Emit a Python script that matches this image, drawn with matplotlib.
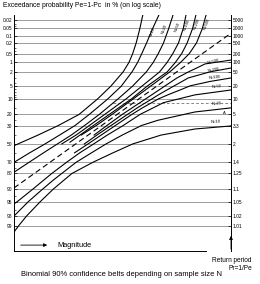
import matplotlib
matplotlib.use("Agg")
import matplotlib.pyplot as plt
import numpy as np
from statistics import NormalDist

# exceedance probability grid (left axis, %) and return periods (right axis)
pe_ticks = [0.02, 0.05, 0.1, 0.2, 0.5, 1, 2, 5, 10, 20, 30, 50, 70, 80, 90, 95, 98, 99]
pe_labels = ["0.02", "0.05", "0.1", "0.2", "0.5", "1", "2", "5", "10", "20", "30",
             "50", "70", "80", "90", "95", "98", "99"]
pr_labels = ["5000", "2000", "1000", "500", "200", "100", "50", "20", "10", "5", "3.3",
             "2", "1.4", "1.25", "1.1", "1.05", "1.02", "1.01"]
pe_minor = [0.03, 0.04, 0.3, 0.4, 3, 4, 6, 7, 8, 9, 15, 25, 40, 60, 75, 85, 93, 97]

# fitted line (dashed)
mid_mag = [0, 100]
mid_pe = [89.5, 0.08]

# example reading: magnitude A and its exceedance probability
ex_mag = [45.6, 100]
ex_pe = [12, 12]

# upper belt limits (magnitude in % of axis width, Pe in %)
up10_mag = [0, 11.1, 20.4, 30.0, 38.5, 44.6, 50.3, 53.0, 54.7, 56.3, 58.0, 59.5]
up10_pe = [52, 40, 30, 20, 10, 5, 2, 1, 0.5, 0.2, 0.05, 0.01]
up20_mag = [0, 7.2, 14.3, 21.0, 28.1, 34.7, 43.2, 49.4, 54.4, 57.0, 58.9, 61.1, 63.9, 67.1]
up20_pe = [70, 60, 50, 40, 30, 20, 10, 5, 2, 1, 0.5, 0.2, 0.05, 0.01]
up50_mag = [0, 6.9, 13.6, 20.0, 26.4, 32.5, 39.3, 47.9, 54.6, 61.0, 64.2, 66.5, 68.9, 71.3, 73.5]
up50_pe = [79, 70, 60, 50, 40, 30, 20, 10, 5, 2, 1, 0.5, 0.2, 0.05, 0.01]
up100_mag = [22.0, 28.6, 34.7, 41.8, 51.6, 58.9, 67.1, 70.6, 73.2, 75.8, 78.0, 79.4]
up100_pe = [50, 40, 30, 20, 10, 5, 2, 1, 0.5, 0.2, 0.05, 0.01]
up200_mag = [25.8, 30.4, 36.6, 43.9, 54.1, 61.3, 70.6, 74.4, 77.3, 79.8, 82.3, 84.0]
up200_pe = [48, 40, 30, 20, 10, 5, 2, 1, 0.5, 0.2, 0.05, 0.01]
up500_mag = [31.0, 37.9, 45.2, 54.9, 62.9, 71.8, 76.8, 80.8, 84.1, 86.8, 88.7]
up500_pe = [40, 30, 20, 10, 5, 2, 1, 0.5, 0.2, 0.05, 0.01]

# lower belt limits
lo10_mag = [0, 2.2, 5.8, 12.1, 18.2, 26.7, 36.3, 45.6, 54.7, 67.8, 83.4, 100]
lo10_pe = [99.4, 99, 98, 95, 90, 80, 70, 60, 50, 40, 33.5, 30.4]
lo20_mag = [0, 6.6, 13.3, 18.0, 22.0, 28.6, 35.7, 42.4, 49.9, 58.7, 66.3, 83.4, 100]
lo20_pe = [98, 95, 90, 85, 80, 70, 60, 50, 40, 30, 25, 18.1, 15.2]
lo50_mag = [0, 1.5, 8.8, 17.4, 24.2, 30.3, 36.7, 43.0, 50.3, 58.1, 64.4, 68.8, 83.4, 100]
lo50_pe = [95.6, 95, 90, 80, 70, 60, 50, 40, 30, 20, 15, 12, 8.1, 6.2]
lo100_mag = [27.9, 34.1, 40.2, 46.7, 54.3, 59.4, 66.5, 71.1, 77.2, 81.1, 90.3, 100]
lo100_pe = [60, 50, 40, 30, 20, 15, 10, 8, 6, 4.9, 3.75, 3.0]
lo200_mag = [32.4, 38.2, 44.7, 52.3, 57.0, 63.5, 66.7, 73.5, 76.6, 80.3, 90.3, 100]
lo200_pe = [50, 40, 30, 20, 15, 10, 8, 5, 4, 3, 2, 1.52]
lo500_mag = [36.9, 42.8, 49.9, 60.6, 69.4, 75.1, 80.4, 84.4, 88.0, 100]
lo500_pe = [40, 30, 20, 10, 5, 3, 2, 1.5, 1.13, 0.84]

nd = NormalDist()


def fwd(pe):
    pe = np.clip(np.asarray(pe, dtype=float), 1e-6, 100 - 1e-6)
    return np.vectorize(lambda p: nd.inv_cdf(1 - p / 100), otypes=[float])(pe)


def inv(z):
    z = np.asarray(z, dtype=float)
    return np.vectorize(lambda v: 100 * (1 - nd.cdf(v)), otypes=[float])(z)


plt.rcParams["font.family"] = ["Liberation Sans", "DejaVu Sans"]

fig = plt.figure(figsize=(2.6, 2.84), dpi=100)
ax = fig.add_axes([14 / 260, 1 - 251 / 284, 217 / 260, 236 / 284])
ax.set_yscale("function", functions=(fwd, inv))
ax.set_xlim(0, 100)
ax.set_ylim(0.0119, 99.886)

# horizontal grid at every labelled probability
for p in pe_ticks:
    ax.axhline(p, color="#8c8c8c", lw=0.6, zorder=1)

# belts
lw = 0.8
for m, p in [(up10_mag, up10_pe), (up20_mag, up20_pe), (up50_mag, up50_pe),
             (up100_mag, up100_pe), (up200_mag, up200_pe), (up500_mag, up500_pe),
             (lo10_mag, lo10_pe), (lo20_mag, lo20_pe), (lo50_mag, lo50_pe),
             (lo100_mag, lo100_pe), (lo200_mag, lo200_pe), (lo500_mag, lo500_pe)]:
    ax.plot(m, p, color="black", lw=lw, zorder=3)
ax.plot(mid_mag, mid_pe, color="black", lw=lw, ls=(0, (5, 3)), zorder=3)
ax.plot(ex_mag, ex_pe, color="#555555", lw=0.5, ls=(0, (4, 3)), zorder=2)

# curve labels
fs_n = 3.0
for txt, x, y in [("N=10", 0.636, 0.928), ("N=20", 0.691, 0.941), ("N=50", 0.751, 0.949),
                  ("N=100", 0.797, 0.958), ("N=200", 0.843, 0.962), ("N=500", 0.889, 0.962)]:
    ax.text(x, y, txt, transform=ax.transAxes, fontsize=fs_n, rotation=70,
            ha="center", va="center")
for txt, x, y, r in [("N=500", 0.917, 0.801, 14), ("N=200", 0.917, 0.767, 10),
                     ("N=100", 0.926, 0.737, 6), ("N=50", 0.931, 0.695, 5),
                     ("N=20", 0.935, 0.623, 4), ("N=10", 0.931, 0.547, 3)]:
    ax.text(x, y, txt, transform=ax.transAxes, fontsize=fs_n, rotation=r,
            ha="center", va="center")
ax.text(0.97, 0.585, "A", transform=ax.transAxes, fontsize=3.0, ha="center", va="center")

# axes and ticks
ax.set_yticks(pe_ticks, pe_labels)
ax.set_yticks(pe_minor, minor=True)
ax.yaxis.set_minor_formatter(plt.NullFormatter())
ax.set_xticks([])
ax.tick_params(axis="y", which="major", labelsize=3.5, length=2, width=0.5,
               direction="in", pad=1)
ax.tick_params(axis="y", which="minor", length=1.5, width=0.4, direction="in")
ax.spines["top"].set_visible(False)
ax.spines["left"].set_linewidth(0.7)
ax.spines["right"].set_linewidth(0.7)
ax.spines["bottom"].set_linewidth(0.7)
ax.spines["bottom"].set_bounds(0, 88.5)

ax2 = ax.twinx()
ax2.set_yscale("function", functions=(fwd, inv))
ax2.set_ylim(ax.get_ylim())
ax2.set_yticks(pe_ticks, pr_labels)
ax2.yaxis.set_minor_locator(plt.NullLocator())
ax2.tick_params(axis="y", labelsize=3.5, length=2, width=0.5, direction="in", pad=1)
for s in ax2.spines.values():
    s.set_visible(False)

# magnitude arrow
ax.annotate("", xy=(0.166, 0.025), xytext=(0.018, 0.025), xycoords="axes fraction",
            arrowprops=dict(arrowstyle="-|>", lw=0.6, color="black", mutation_scale=5))
ax.text(0.198, 0.025, "Magnitude", transform=ax.transAxes, fontsize=5.3, va="center")

# return period arrow
ax.annotate("", xy=(1.0, 0.076), xytext=(1.0, -0.004), xycoords="axes fraction",
            arrowprops=dict(arrowstyle="-|>", lw=0.6, color="black", mutation_scale=5),
            annotation_clip=False)

fig.text(0.012, 0.982, "Exceedance probability Pe=1-Pc  in % (on log scale)",
         fontsize=4.9, va="center", ha="left")
fig.text(0.969, 0.095, "Return period\nPr=1/Pe", fontsize=4.7, ha="right", va="top",
         linespacing=1.1)
fig.text(0.469, 0.032, "Binomial 90% confidence belts depending on sample size N",
         fontsize=5.4, ha="center", va="center")

fig.savefig("out.png", dpi=100)
